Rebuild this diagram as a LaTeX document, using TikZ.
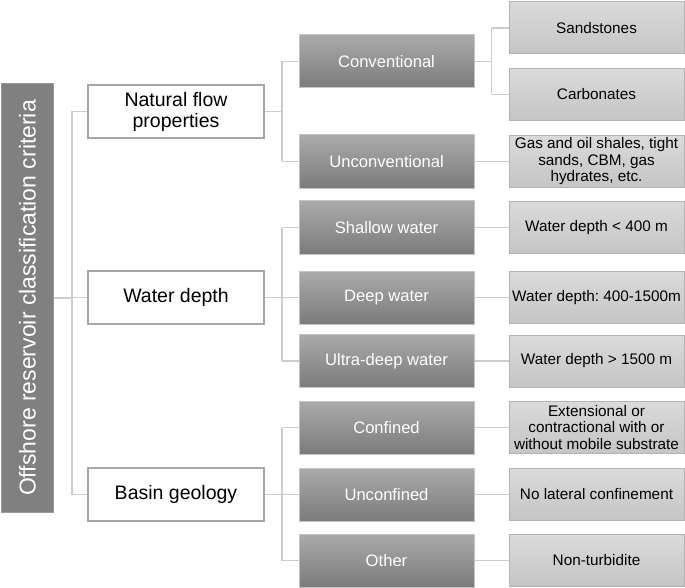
\documentclass[tikz,border=0pt]{standalone}
\usepackage{fontspec}
\setmainfont{Liberation Sans}
\frenchspacing
\definecolor{rootfill}{HTML}{808080}
\definecolor{rootdraw}{HTML}{9A9A9A}
\definecolor{onedraw}{HTML}{A6A6A6}
\definecolor{twotop}{HTML}{AAAAAA}
\definecolor{twobot}{HTML}{7B7B7B}
\definecolor{twodraw}{HTML}{C4C4C4}
\definecolor{threetop}{HTML}{DADADA}
\definecolor{threebot}{HTML}{C5C5C5}
\definecolor{threedraw}{HTML}{B3B3B3}
\definecolor{conncol}{HTML}{CCCCCC}
\begin{document}
\begin{tikzpicture}[x=1bp,y=-1bp,
  rootbox/.style={draw=rootdraw,fill=rootfill,line width=1bp,minimum width=51bp,minimum height=428bp,inner sep=0pt,text=white,font=\fontsize{23bp}{25bp}\selectfont},
  lvlone/.style={draw=onedraw,fill=white,line width=1.5bp,minimum width=176bp,minimum height=53bp,inner sep=0pt,align=center,font=\fontsize{19.5bp}{21bp}\selectfont},
  lvltwo/.style={draw=twodraw,top color=twotop,bottom color=twobot,line width=1bp,minimum width=175bp,minimum height=53bp,inner sep=0pt,align=center,text=white,font=\fontsize{16.6bp}{18bp}\selectfont},
  lvlthree/.style={draw=threedraw,top color=threetop,bottom color=threebot,line width=1bp,minimum width=175bp,minimum height=52bp,inner sep=0pt,align=center,font=\fontsize{15.3bp}{16.5bp}\selectfont},
  conn/.style={draw=conncol,line width=1.5bp}]
\useasboundingbox (0,0) rectangle (685,588);

% root
\node[rootbox] (root) at (27.5,298) {\rotatebox{90}{Offshore reservoir classification criteria}};

% level one
\node[lvlone] (nat) at (176,111.5) {Natural flow\\properties};
\node[lvlone] (wd) at (176,297.5) {Water depth};
\node[lvlone] (bg) at (176,494.5) {Basin geology};

% level two
\node[lvltwo] (conv) at (386.5,61.5) {Conventional};
\node[lvltwo] (unconv) at (386.5,161.5) {Unconventional};
\node[lvltwo] (shallow) at (386.5,227.5) {Shallow water};
\node[lvltwo] (deep) at (386.5,297.5) {Deep water};
\node[lvltwo] (ultra) at (386.5,361) {Ultra-deep water};
\node[lvltwo] (conf) at (386.5,427.5) {Confined};
\node[lvltwo] (unconf) at (386.5,494.5) {Unconfined};
\node[lvltwo] (other) at (386.5,560.5) {Other};

% level three
\node[lvlthree] (sand) at (596.5,28) {Sandstones};
\node[lvlthree] (carb) at (596.5,94.5) {Carbonates};
\node[lvlthree] (gas) at (596.5,161.5) {Gas and oil shales, tight\\sands, CBM, gas\\hydrates, etc.};
\node[lvlthree] (wlt) at (596.5,227.5) {Water depth < 400 m};
\node[lvlthree] (wmid) at (596.5,297.5) {Water depth: 400-1500m};
\node[lvlthree] (wgt) at (596.5,361) {Water depth > 1500 m};
\node[lvlthree] (ext) at (596.5,427.5) {Extensional or\\contractional with or\\without mobile substrate};
\node[lvlthree] (nolat) at (596.5,494.5) {No lateral confinement};
\node[lvlthree] (nonturb) at (596.5,560.5) {Non-turbidite};

% junction columns
\coordinate (ja) at (72,0);
\coordinate (jb) at (282,0);
\coordinate (jc) at (491.5,0);

% root to level one
\draw[conn] (root.east) -- (root.east -| ja);
\draw[conn] (ja |- nat) -- (ja |- bg);
\draw[conn] (ja |- nat) -- (nat.west);
\draw[conn] (ja |- wd) -- (wd.west);
\draw[conn] (ja |- bg) -- (bg.west);

% natural flow
\draw[conn] (nat.east) -- (nat.east -| jb);
\draw[conn] (jb |- conv) -- (jb |- unconv);
\draw[conn] (jb |- conv) -- (conv.west);
\draw[conn] (jb |- unconv) -- (unconv.west);

% water depth
\draw[conn] (wd.east) -- (wd.east -| jb);
\draw[conn] (jb |- shallow) -- (jb |- ultra);
\draw[conn] (jb |- shallow) -- (shallow.west);
\draw[conn] (jb |- deep) -- (deep.west);
\draw[conn] (jb |- ultra) -- (ultra.west);

% basin geology
\draw[conn] (bg.east) -- (bg.east -| jb);
\draw[conn] (jb |- conf) -- (jb |- other);
\draw[conn] (jb |- conf) -- (conf.west);
\draw[conn] (jb |- unconf) -- (unconf.west);
\draw[conn] (jb |- other) -- (other.west);

% level two to level three
\draw[conn] (conv.east) -- (conv.east -| jc);
\draw[conn] (jc |- sand) -- (jc |- carb);
\draw[conn] (jc |- sand) -- (sand.west);
\draw[conn] (jc |- carb) -- (carb.west);
\draw[conn] (unconv) -- (gas);
\draw[conn] (shallow) -- (wlt);
\draw[conn] (deep) -- (wmid);
\draw[conn] (ultra) -- (wgt);
\draw[conn] (conf) -- (ext);
\draw[conn] (unconf) -- (nolat);
\draw[conn] (other) -- (nonturb);
\end{tikzpicture}
\end{document}
